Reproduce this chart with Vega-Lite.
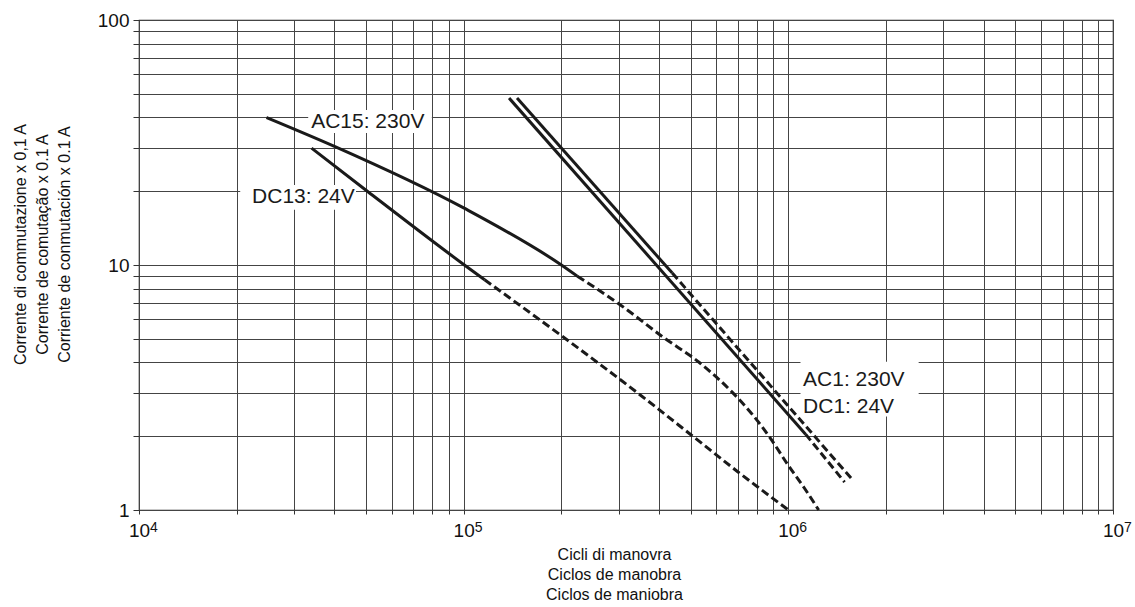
{
  "$schema": "https://vega.github.io/schema/vega-lite/v6.json",
  "autosize": {"type": "none"},
  "width": 974,
  "height": 490,
  "padding": {"left": 139, "top": 20, "right": 22, "bottom": 97},
  "background": "white",
  "config": {
    "view": {"stroke": "#222", "strokeWidth": 1.2},
    "font": "Liberation Sans"
  },
  "datasets": {
    "curves": [
      {"curve": "AC15", "seg": "solid", "x": 24700, "y": 40},
      {"curve": "AC15", "seg": "solid", "x": 40000, "y": 30.5},
      {"curve": "AC15", "seg": "solid", "x": 100000, "y": 17.1},
      {"curve": "AC15", "seg": "solid", "x": 200000, "y": 10},
      {"curve": "AC15", "seg": "solid", "x": 224000, "y": 9},
      {"curve": "AC15", "seg": "dashed", "x": 224000, "y": 9},
      {"curve": "AC15", "seg": "dashed", "x": 298000, "y": 7},
      {"curve": "AC15", "seg": "dashed", "x": 418000, "y": 5},
      {"curve": "AC15", "seg": "dashed", "x": 532000, "y": 4},
      {"curve": "AC15", "seg": "dashed", "x": 879000, "y": 1.97},
      {"curve": "AC15", "seg": "dashed", "x": 1000000, "y": 1.52},
      {"curve": "AC15", "seg": "dashed", "x": 1120000, "y": 1.23},
      {"curve": "AC15", "seg": "dashed", "x": 1240000, "y": 1.0},
      {"curve": "DC13", "seg": "solid", "x": 34000, "y": 30},
      {"curve": "DC13", "seg": "solid", "x": 50500, "y": 20},
      {"curve": "DC13", "seg": "solid", "x": 100500, "y": 10},
      {"curve": "DC13", "seg": "solid", "x": 116000, "y": 8.7},
      {"curve": "DC13", "seg": "dashed", "x": 116000, "y": 8.7},
      {"curve": "DC13", "seg": "dashed", "x": 206000, "y": 5},
      {"curve": "DC13", "seg": "dashed", "x": 344000, "y": 3},
      {"curve": "DC13", "seg": "dashed", "x": 508000, "y": 2},
      {"curve": "DC13", "seg": "dashed", "x": 700000, "y": 1.43},
      {"curve": "DC13", "seg": "dashed", "x": 1000000, "y": 1.0},
      {"curve": "AC1", "seg": "solid", "x": 146000, "y": 48},
      {"curve": "AC1", "seg": "solid", "x": 439000, "y": 9.27},
      {"curve": "AC1", "seg": "dashed", "x": 439000, "y": 9.27},
      {"curve": "AC1", "seg": "dashed", "x": 1560000, "y": 1.35},
      {"curve": "DC1", "seg": "solid", "x": 138000, "y": 48},
      {"curve": "DC1", "seg": "solid", "x": 1130000, "y": 2.04},
      {"curve": "DC1", "seg": "dashed", "x": 1130000, "y": 2.04},
      {"curve": "DC1", "seg": "dashed", "x": 1490000, "y": 1.30}
    ],
    "boxes": [
      {"x": 33200, "x2": 79800, "y": 42.9, "y2": 34.6},
      {"x": 20500, "x2": 46600, "y": 21.2, "y2": 16.8},
      {"x": 1090000, "x2": 2520000, "y": 4.03, "y2": 2.41}
    ],
    "labels": [
      {"x": 33900, "y": 38.4, "label": "AC15: 230V"},
      {"x": 22300, "y": 19.0, "label": "DC13: 24V"},
      {"x": 1110000, "y": 3.40, "label": "AC1: 230V"},
      {"x": 1110000, "y": 2.63, "label": "DC1: 24V"}
    ],
    "exponents": [
      {"x": 10000, "y": 1, "exp": "4"},
      {"x": 100000, "y": 1, "exp": "5"},
      {"x": 1000000, "y": 1, "exp": "6"},
      {"x": 10000000, "y": 1, "exp": "7"}
    ]
  },
  "encoding": {
    "x": {
      "field": "x",
      "type": "quantitative",
      "scale": {"type": "log", "domain": [10000, 10000000], "nice": false},
      "axis": {
        "title": ["Cicli di manovra", "Ciclos de manobra", "Ciclos de maniobra"],
        "titleFont": "Liberation Sans",
        "titleFontSize": 16,
        "titleFontWeight": "normal",
        "titleColor": "#111",
        "titleLineHeight": 20,
        "titleBaseline": "top",
        "titleX": 475,
        "titleY": 36,
        "values": [10000, 20000, 30000, 40000, 50000, 60000, 70000, 80000, 90000, 100000, 200000, 300000, 400000, 500000, 600000, 700000, 800000, 900000, 1000000, 2000000, 3000000, 4000000, 5000000, 6000000, 7000000, 8000000, 9000000, 10000000],
        "labelExpr": "(datum.value == 10000 || datum.value == 100000 || datum.value == 1000000 || datum.value == 10000000) ? '10' : ''",
        "labelFont": "Liberation Sans",
        "labelFontSize": 19,
        "labelColor": "#111",
        "labelOverlap": false,
        "labelFlush": false,
        "labelPadding": 7,
        "labelBaseline": "top",
        "tickSize": 4,
        "tickColor": "#333",
        "domain": false,
        "grid": true,
        "gridColor": "#444",
        "gridWidth": 1,
        "gridOpacity": 1
      }
    },
    "y": {
      "field": "y",
      "type": "quantitative",
      "scale": {"type": "log", "domain": [1, 100], "nice": false},
      "axis": {
        "title": ["Corrente di commutazione x 0,1 A", "Corrente de comutação x 0.1 A", "Corriente de conmutación x 0.1 A"],
        "titleFont": "Liberation Sans",
        "titleFontSize": 16,
        "titleFontWeight": "normal",
        "titleColor": "#111",
        "titleLineHeight": 22,
        "titleAngle": -90,
        "titleAlign": "center",
        "titleBaseline": "top",
        "titleX": -127,
        "titleY": 224,
        "values": [1, 2, 3, 4, 5, 6, 7, 8, 9, 10, 20, 30, 40, 50, 60, 70, 80, 90, 100],
        "labelExpr": "datum.value == 1 ? '1' : datum.value == 10 ? '10' : datum.value == 100 ? '100' : ''",
        "labelFont": "Liberation Sans",
        "labelFontSize": 19,
        "labelColor": "#111",
        "labelOverlap": false,
        "labelFlush": false,
        "labelPadding": 4,
        "tickSize": 6,
        "tickColor": "#333",
        "domain": false,
        "grid": true,
        "gridColor": "#444",
        "gridWidth": 1,
        "gridOpacity": 1
      }
    }
  },
  "layer": [
    {
      "data": {"name": "boxes"},
      "mark": {"type": "rect", "color": "white", "opacity": 1},
      "encoding": {
        "x2": {"field": "x2"},
        "y2": {"field": "y2"}
      }
    },
    {
      "data": {"name": "curves"},
      "transform": [{"filter": "datum.seg == 'solid'"}],
      "mark": {"type": "line", "color": "#1a1a1a", "strokeWidth": 3, "interpolate": "monotone"},
      "encoding": {"detail": {"field": "curve"}}
    },
    {
      "data": {"name": "curves"},
      "transform": [{"filter": "datum.seg == 'dashed'"}],
      "mark": {"type": "line", "color": "#1a1a1a", "strokeWidth": 3, "strokeDash": [8, 4], "interpolate": "monotone"},
      "encoding": {"detail": {"field": "curve"}}
    },
    {
      "data": {"name": "labels"},
      "mark": {"type": "text", "align": "left", "baseline": "middle", "font": "Liberation Sans", "fontSize": 21, "color": "#1a1a1a"},
      "encoding": {"text": {"field": "label"}}
    },
    {
      "data": {"name": "exponents"},
      "mark": {"type": "text", "align": "left", "baseline": "top", "dx": 11, "dy": 11, "font": "Liberation Sans", "fontSize": 14, "color": "#111"},
      "encoding": {"text": {"field": "exp"}}
    }
  ]
}
